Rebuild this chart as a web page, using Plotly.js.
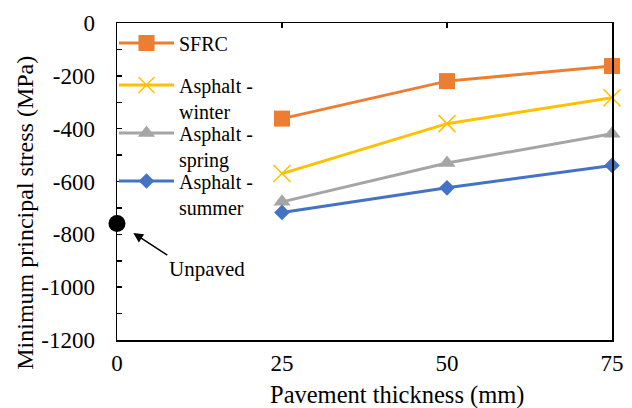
<!DOCTYPE html>
<html><head><meta charset="utf-8">
<script src="https://cdn.plot.ly/plotly-3.0.1.min.js"></script>
<style>html,body{margin:0;padding:0;background:#fff}</style>
</head><body><div id="chart" style="width:632px;height:408px"></div>
<script>
const thickness = [25, 50, 75];
const sfrc = [-362, -220, -163];
const asphaltWinter = [-570, -381, -283];
const asphaltSpring = [-677, -530, -419];
const asphaltSummer = [-717, -624, -539];
const unpavedX = [0];
const unpavedY = [-759];
const seriesNames = ['SFRC', 'Asphalt -<br>winter', 'Asphalt -<br>spring', 'Asphalt -<br>summer'];
const xTickVals = [0, 25, 50, 75];
const yTickVals = [0, -200, -400, -600, -800, -1000, -1200];
const yTickText = ['0', '-200', '-400', '-600', '-800', '-1000', '-1200'];
const yRange = [-1200, 0];

const FONT = '"Liberation Serif", "Times New Roman", serif';
const series = [sfrc, asphaltWinter, asphaltSpring, asphaltSummer];
const colors = ['#ED7D31', '#FFC000', '#A5A5A5', '#4472C4'];
const symbols = ['square', 'x-thin-open', 'triangle-up', 'diamond'];
const sizes = [16, 17, 15, 12];
const legendIds = ['legend', 'legend2', 'legend3', 'legend4'];
const legendTops = [23.5, 65.5, 113.5, 161.5];

const traces = series.map((ys, i) => ({
  type: 'scatter', mode: 'lines+markers', x: thickness, y: ys, name: seriesNames[i],
  legend: legendIds[i],
  line: {color: colors[i], width: 3},
  marker: {symbol: symbols[i], size: sizes[i], color: colors[i], line: {color: colors[i], width: i === 1 ? 1.5 : 0}},
  cliponaxis: false
}));
traces.push({
  type: 'scatter', mode: 'markers', x: unpavedX, y: unpavedY, showlegend: false,
  marker: {symbol: 'circle', size: 17, color: '#000'}, cliponaxis: false
});
traces.push({type: 'scatter', x: [], y: [], xaxis: 'x2', showlegend: false, hoverinfo: 'skip'});

function legendCfg(top) {
  return {xref: 'container', yref: 'container', x: 114 / 632, y: 1 - top / 408,
    xanchor: 'left', yanchor: 'top', bgcolor: 'rgba(0,0,0,0)', valign: 'top',
    font: {family: FONT, size: 20, color: '#000'}, itemwidth: 55};
}

const layout = {
  width: 632, height: 408,
  margin: {l: 116.5, r: 20.3, t: 22.5, b: 68, autoexpand: false},
  paper_bgcolor: '#fff', plot_bgcolor: '#fff',
  font: {family: FONT, size: 23, color: '#000'},
  showlegend: true,
  xaxis: {
    range: [0, 75], tickvals: xTickVals, ticks: '', showgrid: false, zeroline: false,
    showline: true, linecolor: '#000', linewidth: 1.5, mirror: true,
    ticklabelstandoff: 2
  },
  xaxis2: {
    overlaying: 'x', side: 'top', matches: 'x', range: [0, 75], tickvals: xTickVals,
    ticks: 'inside', ticklen: 5, tickwidth: 1.5, tickcolor: '#000', showticklabels: false,
    showgrid: false, zeroline: false, showline: false
  },
  yaxis: {
    range: yRange, tickmode: 'array', tickvals: yTickVals, ticktext: yTickText,
    ticks: 'inside', ticklen: 5, tickwidth: 1.5, tickcolor: '#000',
    minor: {tickmode: 'linear', tick0: 0, dtick: 100, ticks: 'inside', ticklen: 5, tickwidth: 1.5, tickcolor: '#000', showgrid: false},
    showgrid: false, zeroline: false, showline: true, linecolor: '#000', linewidth: 1.5, mirror: true,
    ticklabelstandoff: 16
  },
  annotations: [{
    x: 2.47, y: -795, xref: 'x', yref: 'y', text: 'Unpaved', showarrow: true,
    ax: 34, ay: 22, xanchor: 'left', yanchor: 'top',
    arrowhead: 2, arrowsize: 1.3, arrowwidth: 1.5, arrowcolor: '#000',
    font: {family: FONT, size: 21, color: '#000'}
  }, {
    xref: 'paper', yref: 'paper', x: (396.5 - 116.5) / 495.2, y: (340 - 395) / 317.5,
    xanchor: 'center', yanchor: 'middle', showarrow: false,
    text: 'Pavement thickness (mm)', font: {family: FONT, size: 24.5, color: '#000'}
  }, {
    xref: 'paper', yref: 'paper', x: (25 - 116.5) / 495.2, y: (340 - 213) / 317.5,
    xanchor: 'center', yanchor: 'middle', showarrow: false, textangle: -90,
    text: 'Minimum principal stress (MPa)', font: {family: FONT, size: 24, color: '#000'}
  }]
};
legendIds.forEach((id, i) => { layout[id] = legendCfg(legendTops[i]); });
Plotly.newPlot('chart', traces, layout, {displayModeBar: false, staticPlot: true});
</script></body></html>
